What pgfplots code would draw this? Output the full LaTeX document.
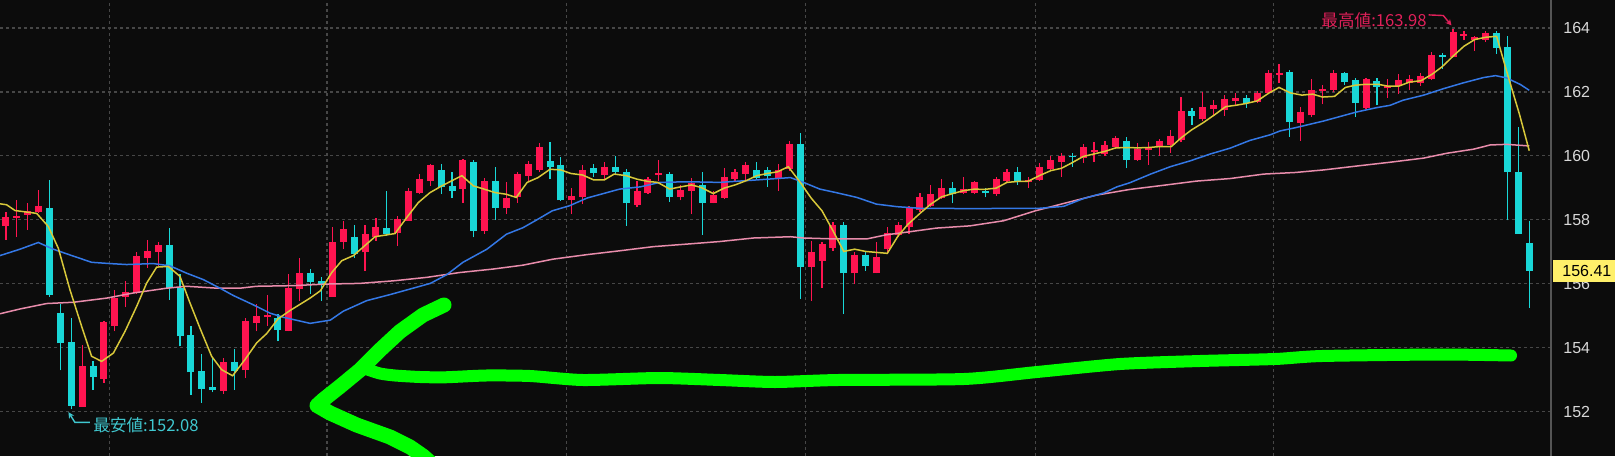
\documentclass[border=0pt]{standalone}
\usepackage{pgfplots}
\pgfplotsset{compat=1.18}
\usepackage{pgfplotstable}
\usetikzlibrary{arrows.meta}
\usepackage{fontspec}
\setmainfont{Liberation Sans}
\newfontfamily\cjk{Noto Sans CJK JP}
\definecolor{bg}{HTML}{0C0C0C}
\definecolor{gridc}{HTML}{474747}
\definecolor{axisc}{HTML}{555555}
\definecolor{labc}{HTML}{D8D8D8}
\definecolor{upred}{HTML}{FF1450}
\definecolor{dncyan}{HTML}{19D7D7}
\definecolor{maY}{HTML}{D8C83A}
\definecolor{maB}{HTML}{3478E6}
\definecolor{maP}{HTML}{E88CAB}
\definecolor{priceY}{HTML}{FFF06A}
\definecolor{annR}{HTML}{E0205A}
\definecolor{annC}{HTML}{40C8D0}
\definecolor{handG}{HTML}{00FF00}

% up candles: i low high open close
\pgfplotstableread{
i L H O C
1 157.38 158.23 157.81 158.10
2 157.46 158.63 158.065 158.125
3 157.69 158.54 158.16 158.26
4 158.21 158.92 158.24 158.42
8 152.15 154.09 152.15 153.42
10 152.90 154.82 153.02 154.79
11 154.51 155.81 154.69 155.55
12 155.27 156.10 155.58 155.73
13 155.69 156.98 155.73 156.88
14 156.49 157.38 156.80 157.01
15 156.54 157.32 156.98 157.20
21 152.56 153.68 152.64 153.55
23 153.05 154.93 153.29 154.82
24 154.51 155.38 154.77 155.00
25 154.69 155.66 154.95 155.02
27 154.51 156.30 154.53 155.86
28 155.47 156.82 155.83 156.32
31 155.59 157.76 155.59 157.32
32 157.08 157.97 157.32 157.71
34 156.41 157.84 156.98 157.55
35 157.34 158.07 157.45 157.78
37 157.19 158.13 157.60 158.02
38 157.97 159.01 157.97 158.91
39 158.80 159.43 158.85 159.27
40 159.06 159.76 159.22 159.72
43 158.54 159.90 158.96 159.86
45 157.57 159.32 157.66 159.20
47 158.18 159.17 158.36 158.68
48 158.54 159.48 158.70 159.43
49 159.22 159.84 159.38 159.76
50 159.48 160.39 159.55 160.28
53 158.18 159.01 158.61 158.75
54 158.49 159.72 158.72 159.55
56 159.27 159.82 159.41 159.66
59 158.39 159.22 158.47 158.91
60 158.82 159.34 158.85 159.27
61 159.22 159.86 159.40 159.45
63 158.61 159.09 158.72 158.94
64 158.18 159.30 158.91 159.14
66 158.51 158.91 158.54 158.78
67 158.65 159.61 158.68 159.34
68 159.17 159.58 159.27 159.48
69 159.22 159.82 159.43 159.72
72 158.91 159.76 159.32 159.55
73 159.53 160.47 159.58 160.36
75 155.47 157.34 156.53 156.98
76 155.86 157.29 156.72 157.24
77 157.03 157.92 157.11 157.84
79 155.99 156.98 156.32 156.91
81 156.32 157.29 156.32 156.84
82 156.98 157.76 157.08 157.60
83 157.47 157.92 157.53 157.84
84 157.57 158.44 157.78 158.36
85 158.23 158.85 158.30 158.72
86 158.41 159.09 158.44 158.80
87 158.65 159.27 158.68 158.99
89 158.80 159.34 158.85 158.96
90 158.80 159.22 158.85 159.17
92 158.75 159.34 158.82 159.27
93 159.17 159.58 159.20 159.48
95 159.01 159.34 159.17 159.24
96 159.22 159.79 159.24 159.64
97 159.54 159.98 159.58 159.87
98 159.35 160.10 159.82 160.00
100 159.79 160.37 159.93 160.29
101 159.82 160.42 160.11 160.17
102 160.00 160.47 160.06 160.35
103 160.21 160.61 160.27 160.56
105 159.85 160.40 159.87 160.21
106 159.72 160.42 160.17 160.29
107 160.00 160.53 160.27 160.45
108 160.10 160.80 160.35 160.63
109 160.42 161.85 160.50 161.40
111 161.08 162.00 161.14 161.54
112 161.24 161.75 161.47 161.58
113 161.26 161.90 161.45 161.79
114 161.58 161.98 161.72 161.82
116 161.66 162.03 161.68 161.98
117 161.93 162.69 161.98 162.59
118 162.29 162.87 162.53 162.59
120 160.48 161.53 161.03 161.37
121 161.21 162.42 161.27 162.07
122 161.61 162.21 162.02 162.08
123 162.00 162.70 162.07 162.60
126 161.48 162.45 161.51 162.40
128 161.82 162.42 162.11 162.17
129 161.93 162.56 162.18 162.37
130 162.07 162.52 162.28 162.41
131 162.18 162.60 162.28 162.49
132 162.37 163.26 162.39 163.17
134 163.08 163.98 163.08 163.88
135 163.62 163.92 163.76 163.82
136 163.29 163.75 163.64 163.71
137 163.57 163.92 163.64 163.83
}\upc

% down candles: i low high close open
\pgfplotstableread{
i L H C O
5 155.60 159.25 155.66 158.36
6 153.29 155.38 154.13 155.08
7 152.08 154.93 152.19 154.17
9 152.69 153.57 153.08 153.42
16 155.50 157.74 155.86 157.20
17 154.04 156.31 154.35 155.86
18 152.53 154.69 153.23 154.39
19 152.27 153.81 152.71 153.26
20 152.60 153.72 152.67 152.76
22 152.69 153.96 153.27 153.55
26 154.20 155.05 154.55 154.93
29 155.68 156.46 156.04 156.32
30 155.47 156.22 155.99 156.09
33 156.80 157.84 156.93 157.47
36 157.50 158.91 157.55 157.74
41 158.80 159.74 159.03 159.55
42 158.68 159.48 158.91 159.05
44 157.45 159.86 157.66 159.82
46 157.99 159.64 158.36 159.20
51 159.27 160.44 159.66 159.84
52 158.59 159.95 158.61 159.71
55 159.35 159.74 159.45 159.61
57 159.43 160.00 159.50 159.66
58 157.81 159.58 158.51 159.48
62 158.57 159.48 158.72 159.43
65 157.53 159.48 158.54 159.09
70 159.27 159.82 159.32 159.55
71 159.03 159.64 159.36 159.55
74 155.52 160.70 156.53 160.36
78 155.05 157.92 156.32 157.84
80 156.41 157.01 156.56 156.91
88 158.51 159.17 158.82 158.99
91 158.70 159.01 158.835 158.895
94 159.09 159.64 159.22 159.48
99 159.66 160.08 159.95 160.01
104 159.61 160.59 159.87 160.48
110 160.98 161.50 161.26 161.40
115 161.50 161.90 161.66 161.82
119 160.59 162.69 161.05 162.63
124 162.21 162.63 162.31 162.60
125 161.21 162.45 161.65 162.37
127 161.58 162.45 162.16 162.35
133 162.73 163.23 163.08 163.14
138 163.20 163.92 163.37 163.83
139 157.98 163.75 159.48 163.39
140 157.56 160.90 157.56 159.48
141 155.25 157.95 156.41 157.28
}\dnc

\begin{document}
\begin{tikzpicture}
\path[use as bounding box] (0,0) rectangle (807.5pt,228pt);
\fill[bg] (0,0) rectangle (807.5pt,228pt);
\begin{axis}[
  at={(0,0)}, anchor=south west,
  scale only axis, width=775.5pt, height=228pt,
  xmin=0.45, xmax=143.0, ymin=150.61, ymax=164.876,
  axis line style={draw=none},
  xtick={10.5,30.5,52.5,74.5,95.6,117.5}, xticklabels={},
  ytick={152,154,156,158,160,162,164},
  yticklabel pos=right,
  major tick length=0pt,
  grid=major,
  major grid style={draw=gridc, dash pattern=on 1.5pt off 1.5pt, line width=0.6pt},
  /pgf/number format/assume math mode=true,
  yticklabel style={font=\fontsize{8}{9}\selectfont, text=labc, anchor=west, inner sep=0pt, xshift=6pt},
  clip mode=individual,
]
% wicks
\addplot[draw=none, forget plot, error bars/.cd, y dir=plus, y explicit, error mark=none,
  error bar style={draw=upred, line width=0.6pt}]
  table[x=i, y=L, y error plus expr=\thisrow{H}-\thisrow{L}] {\upc};
\addplot[draw=none, forget plot, error bars/.cd, y dir=plus, y explicit, error mark=none,
  error bar style={draw=dncyan, line width=0.6pt}]
  table[x=i, y=L, y error plus expr=\thisrow{H}-\thisrow{L}] {\dnc};
% bodies
\addplot[draw=none, forget plot, error bars/.cd, y dir=plus, y explicit, error mark=none,
  error bar style={draw=upred, line width=3.5pt, line cap=butt}]
  table[x=i, y=O, y error plus expr=\thisrow{C}-\thisrow{O}] {\upc};
\addplot[draw=none, forget plot, error bars/.cd, y dir=plus, y explicit, error mark=none,
  error bar style={draw=dncyan, line width=3.5pt, line cap=butt}]
  table[x=i, y=C, y error plus expr=\thisrow{O}-\thisrow{C}] {\dnc};
% 75-day (pink)
\addplot[maP, line width=0.75pt, mark=none] coordinates {
(0.45,155.06) (2.29,155.21) (4.74,155.38) (7.2,155.42) (10.26,155.55) (12.7,155.71)
(15.77,155.86) (17.6,155.92) (20.4,155.86) (22.5,155.86) (24.04,155.92) (27.4,155.94)
(30.5,155.99) (33.5,156.01) (36.6,156.09) (39.7,156.20) (42.7,156.35) (45.8,156.46)
(48.5,156.58) (51.3,156.77) (54.4,156.91) (57.4,157.03) (60.5,157.16) (63.6,157.24)
(66.6,157.32) (69.7,157.43) (73.1,157.47) (74.3,157.43) (77.3,157.40) (80.1,157.40)
(81.9,157.53) (83.5,157.60) (86.5,157.74) (89.6,157.81) (92.7,157.97) (95.6,158.28)
(98.2,158.51) (101.2,158.77) (104.3,158.95) (107.4,159.08) (110.4,159.21) (113.5,159.29)
(116.6,159.43) (119.5,159.48) (122.1,159.56) (125.1,159.68) (128.2,159.80) (131.3,159.93)
(133.4,160.08) (135.9,160.21) (137.4,160.34) (138.9,160.36) (141,160.31)};
% 25-day (blue)
\addplot[maB, line width=0.75pt, mark=none] coordinates {
(0.45,156.88) (2.29,157.08) (3.97,157.29) (5.35,157.08) (6.88,156.90) (8.87,156.67)
(10.56,156.63) (12.09,156.60) (14.54,156.63) (16.07,156.56) (17.6,156.33) (19.13,156.13)
(20.67,155.86) (21.9,155.63) (23.73,155.34) (25.26,155.08) (26.5,154.95) (28.95,154.76)
(30.8,154.86) (32.0,155.14) (34.15,155.47) (36.3,155.66) (38.1,155.83) (40.0,156.01)
(41.5,156.28) (43.0,156.67) (45.2,157.08) (47.0,157.55) (48.5,157.75) (49.8,158.00)
(51.2,158.28) (52.8,158.44) (54.4,158.68) (55.9,158.82) (57.4,158.96) (59.3,159.03)
(61.1,159.17) (63.6,159.19) (66.6,159.17) (69.7,159.24) (73.1,159.32) (74.3,159.17)
(75.8,158.96) (77.3,158.85) (79.2,158.70) (81.0,158.49) (82.9,158.41) (85.0,158.36)
(89.6,158.35) (96.0,158.36) (98.2,158.42) (100.0,158.66) (101.9,158.84) (103.1,159.03)
(104.3,159.16) (106.2,159.43) (108.0,159.66) (109.8,159.84) (111.7,160.06) (113.5,160.24)
(115.3,160.48) (117.2,160.66) (118.1,160.78) (119.5,160.88) (122.1,161.09) (125.1,161.37)
(127,161.51) (128.2,161.58) (129.4,161.74) (131.3,161.90) (133.1,162.10) (134.9,162.28)
(136.8,162.45) (137.9,162.51) (138.9,162.44) (140.2,162.23) (141,162.05)};
% 5-day (yellow)
\addplot[maY, line width=0.75pt, mark=none] coordinates {
(0.45,158.50) (1.06,158.47) (1.83,158.29) (3.82,158.20) (4.89,157.79) (5.81,157.11)
(6.88,155.81) (7.95,154.67) (8.87,153.73) (9.79,153.57) (10.87,153.83) (11.94,154.51)
(13.01,155.29) (13.93,156.02) (14.85,156.52) (15.92,156.54) (16.99,156.23) (17.91,155.40)
(18.83,154.61) (19.9,153.73) (20.82,153.31) (21.83,153.12) (22.97,153.63) (24.04,154.15)
(24.96,154.44) (26,154.90) (27.1,155.16) (28.95,155.55) (29.9,155.78) (30.94,156.35)
(31.86,156.72) (32.93,156.88) (34.92,157.47) (36.76,157.57) (37.83,158.07) (38.9,158.54)
(39.97,158.85) (41.05,159.06) (41.97,159.22) (42.9,159.38) (43.96,159.06) (44.94,158.96)
(45.95,158.85) (46.96,158.80) (47.9,158.70) (48.9,159.17) (49.9,159.32) (51.0,159.58)
(52.0,159.56) (52.9,159.45) (54.0,159.40) (55.0,159.25) (56.0,159.25) (56.9,159.43)
(58.0,159.38) (59.0,159.27) (60.0,159.20) (60.9,159.17) (62.0,158.96) (63.0,159.03)
(64.0,159.09) (64.9,159.01) (66.0,158.82) (67.0,158.99) (68.0,159.09) (69.0,159.22)
(70.0,159.38) (71.0,159.45) (71.9,159.50) (72.9,159.66) (74.0,159.17) (75.0,158.68)
(76.0,158.28) (77.0,157.66) (78.0,157.01) (79.0,157.08) (80.0,157.01) (81.0,156.98)
(82.0,156.95) (83.0,157.50) (83.9,157.86) (85.1,158.23) (86.0,158.49) (87.0,158.72)
(88.0,158.82) (89.0,158.91) (90.0,158.96) (90.9,158.95) (92.0,158.99) (93.0,159.17)
(94.0,159.20) (94.9,159.20) (96.1,159.40) (97.05,159.54) (98.0,159.61) (98.9,159.77)
(100.0,159.98) (101.0,160.06) (102.0,160.14) (103.0,160.25) (104.1,160.26) (105.0,160.25)
(106.0,160.26) (107.0,160.29) (108.1,160.29) (109.1,160.59) (110.0,160.82) (111.0,161.03)
(112.1,161.29) (113.1,161.54) (114.0,161.58) (115.0,161.64) (116.0,161.72) (117.05,161.96)
(118.0,162.14) (119.05,161.97) (120.1,161.90) (121.1,161.93) (122.0,161.84) (123.1,161.86)
(124.1,162.14) (125.0,162.21) (126.0,162.24) (127.1,162.24) (128.0,162.18) (129.0,162.18)
(130.0,162.31) (131.05,162.35) (132.1,162.56) (133.0,162.79) (134.0,163.12) (135.0,163.43)
(136.0,163.64) (137.0,163.71) (138.0,163.74) (139.1,162.44) (140.1,161.30) (141.0,160.16)};
% annotations
\node[anchor=east, inner sep=0pt, text=annR, font=\cjk\fontsize{8.3}{9}\selectfont]
  at (axis cs:131.6,164.25) {最高値:163.98};
\draw[annR, line width=0.7pt, -{Stealth[length=3pt,width=3pt]}]
  (axis cs:131.75,164.41) -- (axis cs:133.1,164.39) -- (axis cs:133.85,164.08);
\node[anchor=west, inner sep=0pt, text=annC, font=\cjk\fontsize{8.3}{9}\selectfont]
  at (axis cs:9.0,151.58) {最安値:152.08};
\draw[annC, line width=0.7pt, -{Stealth[length=3pt,width=3pt]}]
  (axis cs:8.72,151.66) -- (axis cs:7.34,151.66) -- (axis cs:6.74,151.98);
% current price box
\node[anchor=west, fill=priceY, text=black, inner xsep=4.5pt, inner ysep=0pt,
  minimum height=11pt, minimum width=31pt, align=left, font=\fontsize{8}{9}\selectfont]
  at ([xshift=1pt]axis cs:143,156.41) {156.41};
\end{axis}
\draw[axisc, line width=1pt] (775.5pt,0) -- (775.5pt,228pt);
% hand-drawn green arrow (pixel coordinates, origin top-left)
\begin{scope}[x=0.5pt, y=-0.5pt, shift={(0,228pt)}]
\draw[handG, line width=6pt, line cap=round, line join=round]
  plot[smooth, tension=0.4] coordinates {(366,369) (380,373.5) (395,375.5) (420,377) (445,377.3) (486,375.5)
  (530,376) (583,380) (659,378) (720,380) (775,382) (838,380) (964,379) (1037,372)
  (1120,364) (1200,361) (1275,359) (1322,356) (1440,354.5) (1511,355.5)};
\draw[handG, line width=7.5pt, line cap=round, line join=round]
  (444,305) -- (423,315) -- (400,331.5) -- (380,350) -- (360,370) -- (340,386.5) -- (323,400) -- (317,405.5)
  -- (330,413) -- (356.7,425) -- (390,437) -- (410,447) -- (423,456) -- (432,464);
\end{scope}
\end{tikzpicture}
\end{document}
